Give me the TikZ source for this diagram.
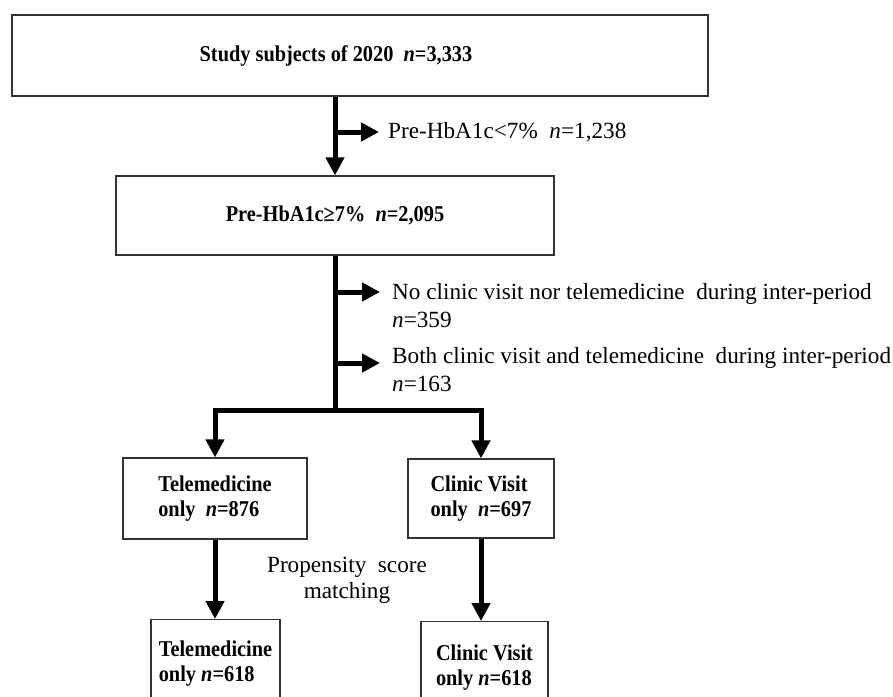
\documentclass[tikz,border=0pt]{standalone}
\usepackage{fontspec}
\setmainfont{Liberation Serif}
\newfontfamily\boxfont[FakeStretch=0.9]{Liberation Serif}
\usetikzlibrary{arrows.meta}
\begin{document}
\begin{tikzpicture}[x=1pt,y=-1pt,
  box/.style={draw=black!80,line width=1.3pt,rectangle,inner sep=0pt,
    font=\boxfont\fontsize{22.6pt}{25pt}\selectfont\bfseries},
  lbl/.style={inner sep=0pt,align=left,font=\fontsize{23.2pt}{28pt}\selectfont},
  flow/.style={line width=5pt,line join=miter,-{Triangle[width=18pt,length=18pt]}},
  bar/.style={line width=5pt,line join=miter}]
\useasboundingbox (0,0) rectangle (893,696);
\clip (0,0) rectangle (893,696);
% boxes
\node[box,minimum width=696pt,minimum height=81pt] (b1) at (360,55.5)
  {Study subjects of 2020\ \ \textit{n}=3,333\hspace*{48pt}};
\node[box,minimum width=438pt,minimum height=79pt] (b2) at (335,215.5)
  {Pre-HbA1c\char"2265 7\%\ \ \textit{n}=2,095};
\node[box,minimum width=184pt,minimum height=81pt,align=left] (b3) at (215,498.5)
  {Telemedicine\\only\ \ \textit{n}=876};
\node[box,minimum width=146pt,minimum height=79pt,align=left] (b4) at (481,498.5)
  {Clinic Visit\\only\ \ \textit{n}=697};
\node[box,minimum width=129pt,anchor=north,inner ysep=21pt,align=left] (b5) at (215.5,619)
  {Telemedicine\\only \textit{n}=618\\[20pt]};
\node[box,minimum width=127pt,anchor=north,inner ysep=23pt,align=left] (b6) at (484.5,621)
  {Clinic Visit\\only \textit{n}=618\\[20pt]};
% labels
\node[lbl,anchor=west,inner xsep=9pt] (l1) at (379,132) {Pre-HbA1c<7\%\ \ \textit{n}=1,238};
\node[lbl,anchor=north west,inner xsep=12pt] (l2) at (380,283)
  {No clinic visit nor telemedicine\ \ during inter-period\\\textit{n}=359};
\node[lbl,anchor=north west,inner xsep=12pt] (l3) at (380,347)
  {Both clinic visit and telemedicine\ \ during inter-period\\\textit{n}=163};
\node[lbl,align=center,font=\fontsize{23.2pt}{26pt}\selectfont] (pm) at (347,580)
  {Propensity\ \ score\\matching};
% connectors
\coordinate (c1) at (335,132);
\coordinate (c2) at (335,292);
\coordinate (c3) at (335,363);
\coordinate (j) at (335,410);
\draw[flow] (b1.south -| b2.north) -- (b2.north);
\draw[flow] (c1) -- (l1.west);
\draw[bar] (b2.south) -- (j);
\draw[flow] (c2) -- (c2 -| l2.west);
\draw[flow] (c3) -- (c3 -| l3.west);
\draw[flow] ([xshift=2.5pt]j) -| (b3.north);
\draw[flow] ([xshift=-2.5pt]j) -| (b4.north);
\draw[flow] (b3.south) -- (b3.south |- b5.north);
\draw[flow] (b4.south) -- (b4.south |- b6.north);
\end{tikzpicture}
\end{document}
